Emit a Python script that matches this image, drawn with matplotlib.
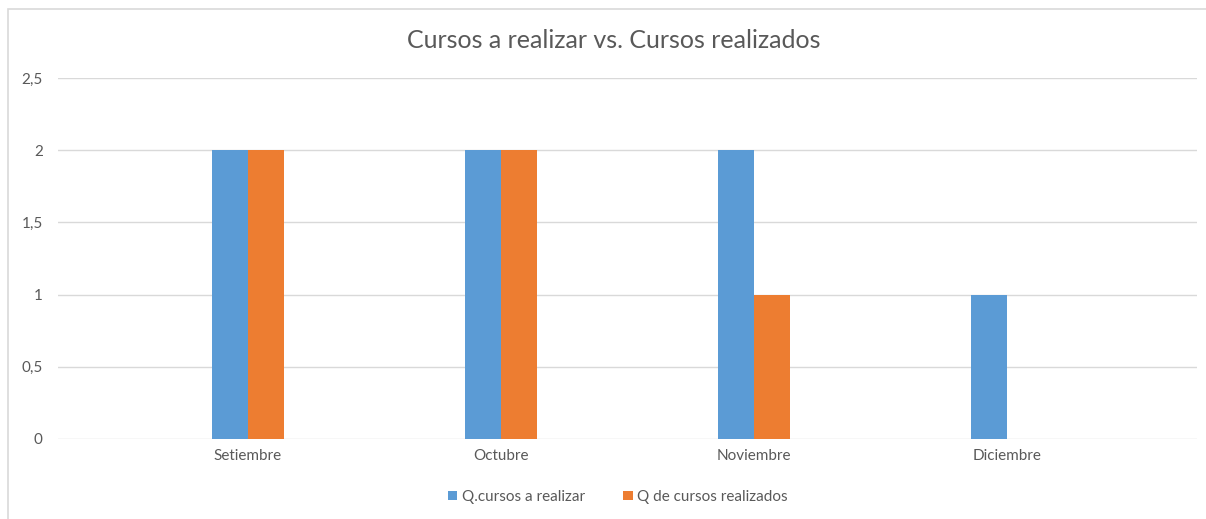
import matplotlib.pyplot as plt
import numpy as np
from matplotlib.patches import Rectangle

meses = ["Setiembre", "Octubre", "Noviembre", "Diciembre"]
a_realizar = [2, 2, 2, 1]
realizados = [2, 2, 1, 0]
y_ticks = [0, 0.5, 1, 1.5, 2, 2.5]
y_labels = ["0", "0,5", "1", "1,5", "2", "2,5"]

plt.rcParams['font.family'] = ['Lato', 'DejaVu Sans']

fig = plt.figure(figsize=(12.06, 5.19), dpi=100)
fig.patches.append(Rectangle((8 / 1206, -0.1), 1.2, 1 - 9 / 519 + 0.1,
                             transform=fig.transFigure, fill=False,
                             edgecolor='#D9D9D9', linewidth=1.2))

ax = fig.add_axes([58 / 1206, 1 - 439 / 519, (1197 - 58) / 1206, (439 - 78) / 519])
x = np.arange(len(meses))
w = 36 / 253
ax.bar(x - w / 2, a_realizar, w, color='#5B9BD5', label='Q.cursos a realizar', zorder=3)
ax.bar(x + w / 2, realizados, w, color='#ED7D31', label='Q de cursos realizados', zorder=3)

ax.set_xlim(-0.75, 3.75)
ax.set_ylim(0, 2.5)
ax.set_yticks(y_ticks)
ax.set_yticklabels(y_labels)
ax.set_xticks(x)
ax.set_xticklabels(meses)
ax.tick_params(length=0, colors='#595959', labelsize=11)
ax.tick_params(axis='y', pad=11)
ax.tick_params(axis='x', pad=7)
ax.grid(axis='y', color='#D9D9D9', linewidth=1, zorder=0)
for s in ax.spines.values():
    s.set_visible(False)

fig.text(614 / 1206, 1 - 40 / 519, "Cursos a realizar vs. Cursos realizados",
         ha='center', va='center', fontsize=18, color='#595959')

fig.legend(loc='center', bbox_to_anchor=(618 / 1206, 1 - 497 / 519), ncol=2,
           frameon=False, fontsize=11, labelcolor='#595959',
           handlelength=0.6, handleheight=0.6, handletextpad=0.3, columnspacing=2.5)

plt.savefig("out.png", dpi=100)
